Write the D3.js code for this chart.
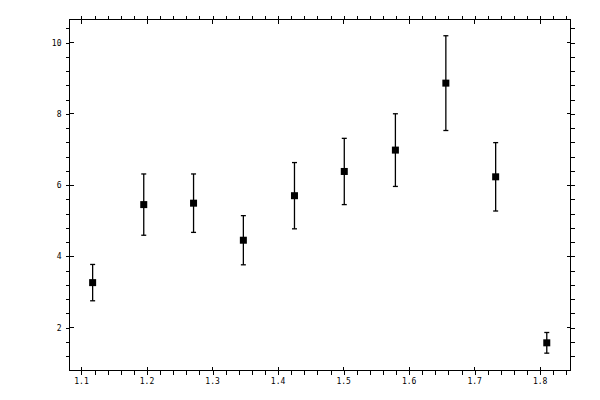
<!DOCTYPE html>
<html>
<head>
<meta charset="utf-8">
<script src="https://cdn.jsdelivr.net/npm/d3@7"></script>
<style>
  body { margin: 0; background: #fff; }
  text { font-family: "DejaVu Sans Mono", monospace; font-size: 8px; fill: #000; }
  .axes line, .axes rect { shape-rendering: crispEdges; }
</style>
</head>
<body>
<svg id="chart" width="600" height="400"></svg>
<script>
// data
const xValues  = [1.117, 1.195, 1.271, 1.347, 1.425, 1.501, 1.579, 1.656, 1.732, 1.810];
const yValues  = [3.26, 5.45, 5.49, 4.45, 5.70, 6.38, 6.98, 8.86, 6.23, 1.57];
const yErrors  = [0.51, 0.86, 0.82, 0.69, 0.93, 0.93, 1.02, 1.33, 0.96, 0.29];
const xTicks   = [1.1, 1.2, 1.3, 1.4, 1.5, 1.6, 1.7, 1.8];
const yTicks   = [2, 4, 6, 8, 10];

const svg = d3.select("#chart");
const axes = svg.append("g").attr("class", "axes");

// plot frame
const plotLeft = 69.5, plotTop = 19.5, plotRight = 570.5, plotBottom = 370.5;

const x = d3.scaleLinear().domain([1.0817, 1.8462]).range([plotLeft, plotRight]);
const y = d3.scaleLinear().domain([0.793, 10.646]).range([plotBottom, plotTop]);

// minor ticks
const xMinor = d3.range(1.08, 1.8462, 0.02).filter(v => x(v) > plotLeft + 1 && x(v) < plotRight - 1);
const yMinor = d3.range(0.8, 10.646, 0.4).filter(v => y(v) < plotBottom - 1 && y(v) > plotTop + 1);

// axes: major ticks cross the line, minor ticks point outward
function addAxis(axisFn, scale, translate, major, minor) {
    const g = axes.append("g").attr("transform", translate);
    g.call(axisFn(scale).tickValues(minor).tickSize(4).tickFormat(""));
    g.selectAll("path").remove();
    const gm = axes.append("g").attr("transform", translate);
    gm.call(axisFn(scale).tickValues(major).tickSizeInner(4).tickSizeOuter(0).tickFormat(""));
    gm.select("path").remove();
    return gm;
}

addAxis(d3.axisBottom, x, `translate(0,${plotBottom})`, xTicks, xMinor);
addAxis(d3.axisTop, x, `translate(0,${plotTop})`, xTicks, xMinor);
addAxis(d3.axisLeft, y, `translate(${plotLeft},0)`, yTicks, yMinor);
addAxis(d3.axisRight, y, `translate(${plotRight},0)`, yTicks, yMinor);

// inward halves of the major ticks
const inner = axes.append("g");
xTicks.forEach(v => {
    const px = x(v);
    inner.append("line").attr("x1", px).attr("x2", px).attr("y1", plotBottom).attr("y2", plotBottom - 4);
    inner.append("line").attr("x1", px).attr("x2", px).attr("y1", plotTop).attr("y2", plotTop + 4);
});
yTicks.forEach(v => {
    const py = y(v);
    inner.append("line").attr("y1", py).attr("y2", py).attr("x1", plotLeft).attr("x2", plotLeft + 4);
    inner.append("line").attr("y1", py).attr("y2", py).attr("x1", plotRight).attr("x2", plotRight - 4);
});

axes.selectAll("line").attr("stroke", "#000").attr("stroke-width", 1);

// frame
axes.append("rect")
    .attr("x", plotLeft).attr("y", plotTop)
    .attr("width", plotRight - plotLeft).attr("height", plotBottom - plotTop)
    .attr("fill", "none").attr("stroke", "#000").attr("stroke-width", 1);

// tick labels
svg.append("g").selectAll("text")
    .data(xTicks)
    .join("text")
    .attr("x", d => x(d))
    .attr("y", plotBottom + 13.5)
    .attr("text-anchor", "middle")
    .text(d => d3.format(".1f")(d));

svg.append("g").selectAll("text")
    .data(yTicks)
    .join("text")
    .attr("x", plotLeft - 8)
    .attr("y", d => y(d) + 3)
    .attr("text-anchor", "end")
    .text(d => d);

// error bars
const points = xValues.map((v, i) => ({ x: v, y: yValues[i], e: yErrors[i] }));
const bars = svg.append("g");
bars.selectAll("line.err")
    .data(points)
    .join("line")
    .attr("class", "err")
    .attr("x1", d => x(d.x)).attr("x2", d => x(d.x))
    .attr("y1", d => y(d.y - d.e)).attr("y2", d => y(d.y + d.e));
bars.selectAll("line.capTop")
    .data(points)
    .join("line")
    .attr("class", "capTop")
    .attr("x1", d => x(d.x) - 2.5).attr("x2", d => x(d.x) + 2.5)
    .attr("y1", d => y(d.y + d.e)).attr("y2", d => y(d.y + d.e));
bars.selectAll("line.capBot")
    .data(points)
    .join("line")
    .attr("class", "capBot")
    .attr("x1", d => x(d.x) - 2.5).attr("x2", d => x(d.x) + 2.5)
    .attr("y1", d => y(d.y - d.e)).attr("y2", d => y(d.y - d.e));
bars.selectAll("line").attr("stroke", "#000").attr("stroke-width", 1.3);

// square markers
const size = 7;
svg.append("g").selectAll("rect")
    .data(points)
    .join("rect")
    .attr("x", d => x(d.x) - size / 2)
    .attr("y", d => y(d.y) - size / 2)
    .attr("width", size).attr("height", size)
    .attr("fill", "#000");
</script>
</body>
</html>
